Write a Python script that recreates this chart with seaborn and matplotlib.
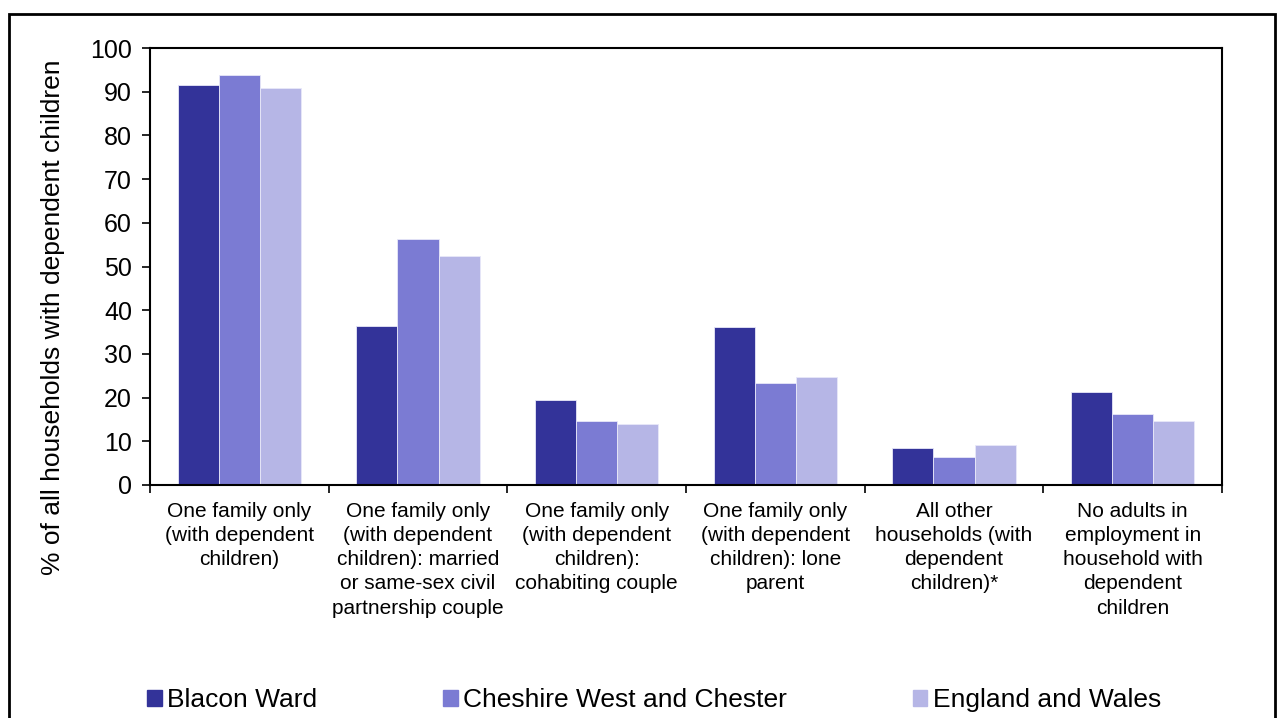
import pandas as pd
import seaborn as sns
import matplotlib.pyplot as plt
from matplotlib.patches import Rectangle
from matplotlib.ticker import FixedLocator

categories = [
    "One family only\n(with dependent\nchildren)",
    "One family only\n(with dependent\nchildren): married\nor same-sex civil\npartnership couple",
    "One family only\n(with dependent\nchildren):\ncohabiting couple",
    "One family only\n(with dependent\nchildren): lone\nparent",
    "All other\nhouseholds (with\ndependent\nchildren)*",
    "No adults in\nemployment in\nhousehold with\ndependent\nchildren",
]
areas = ["Blacon Ward", "Cheshire West and Chester", "England and Wales"]
blacon = [91.5, 36.4, 19.5, 36.2, 8.5, 21.3]
cheshire = [93.8, 56.3, 14.6, 23.3, 6.4, 16.2]
england = [90.8, 52.4, 14.0, 24.7, 9.2, 14.6]
colors = ["#333399", "#7B7BD3", "#B6B6E6"]

rows = []
for area, vals in zip(areas, [blacon, cheshire, england]):
    for cat, v in zip(categories, vals):
        rows.append({"category": cat, "area": area, "value": v})
df = pd.DataFrame(rows)

sns.set_style("white")
plt.rcParams['font.family'] = ['Liberation Sans', 'DejaVu Sans']
plt.rcParams['text.color'] = 'black'
plt.rcParams['axes.labelcolor'] = 'black'
plt.rcParams['xtick.color'] = 'black'
plt.rcParams['ytick.color'] = 'black'

fig = plt.figure(figsize=(12.77, 7.18), dpi=100)
ax = fig.add_axes([150 / 1277, 1 - 485 / 718, 1072 / 1277, 437 / 718])

sns.barplot(data=df, x="category", y="value", hue="area", palette=colors,
            saturation=1, width=0.69, edgecolor="#E8E8F8", linewidth=0.6, ax=ax)

ax.set_ylim(0, 100)
ax.set_xlim(-0.5, len(categories) - 0.5)
ax.set_yticks(range(0, 101, 10))
ax.tick_params(axis='y', labelsize=18, length=6, width=1.2, direction='out',
               left=True, pad=7, colors='black')
ax.tick_params(axis='x', which='major', length=0, labelsize=15, pad=12, colors='black')
ax.xaxis.set_minor_locator(FixedLocator([i - 0.5 for i in range(len(categories) + 1)]))
ax.tick_params(axis='x', which='minor', length=6, width=1.2, direction='out', bottom=True)
for lab in ax.get_xticklabels():
    lab.set_linespacing(1.35)
    lab.set_verticalalignment('top')

ax.set_xlabel("")
ax.set_ylabel("% of all households with dependent children", fontsize=19, color='black')
ax.yaxis.set_label_coords(-0.079, 0.384)

for s in ax.spines.values():
    s.set_visible(True)
    s.set_color('black')
    s.set_linewidth(1.5)

ax.get_legend().remove()
handles = [Rectangle((0, 0), 1, 1, color=c) for c in colors]
fig.legend(handles, areas, loc='center left', bbox_to_anchor=(147 / 1277, 18 / 718),
           ncol=3, frameon=False, fontsize=19, handlelength=0.55, handleheight=0.55,
           handletextpad=0.2, columnspacing=4.78, borderpad=0, borderaxespad=0,
           labelcolor='black')

fig.patches.append(Rectangle((9 / 1277, -0.05), 1266 / 1277, 1 - 14 / 718 + 0.05,
                             transform=fig.transFigure, fill=False,
                             edgecolor='black', linewidth=2))

fig.savefig("out.png", dpi=100)
